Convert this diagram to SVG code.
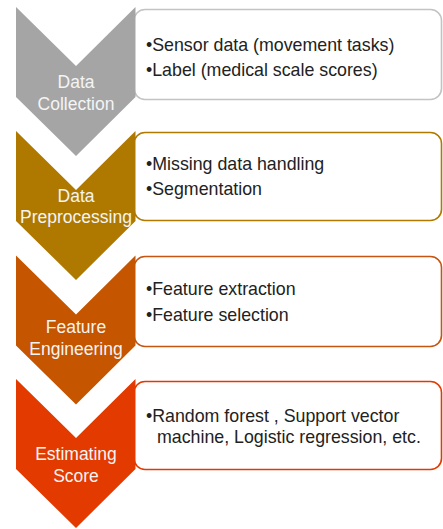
<svg xmlns="http://www.w3.org/2000/svg" width="443" height="529" viewBox="0 0 443 529">
  <defs>
    <!-- chevron step shape, drawn at origin and moved per step -->
    <polygon id="chev" points="16,0 76,59 135.5,0 135.5,90 76,149 16,90"/>
  </defs>
  <style>
    .box { fill: #ffffff; stroke-width: 1.6; }
    .step { font-family: "Liberation Sans", Arial, sans-serif; font-size: 17.5px; fill: #f4f4f4; text-anchor: middle; }
    .item { font-family: "Liberation Sans", Arial, sans-serif; font-size: 17.8px; fill: #222222; }
  </style>
  <rect width="443" height="529" fill="#ffffff"/>

  <g id="connectors"/>

  <!-- Step 1: data collection -->
  <g id="step-collection">
    <rect class="box" x="134" y="9.5" width="307.5" height="90" rx="11" stroke="#c3c3c3"/>
    <use href="#chev" x="0" y="7" fill="#a5a5a5"/>
    <text class="step" x="76" y="88">Data</text>
    <text class="step" x="76" y="110">Collection</text>
    <text class="item" x="146" y="51">•Sensor data (movement tasks)</text>
    <text class="item" x="146" y="76">•Label (medical scale scores)</text>
  </g>

  <!-- Step 2: preprocessing -->
  <g id="step-preprocessing">
    <rect class="box" x="134" y="132.5" width="307.5" height="88" rx="11" stroke="#b07a00"/>
    <use href="#chev" x="0" y="131" fill="#af7900"/>
    <text class="step" x="76" y="202">Data</text>
    <text class="step" x="76" y="223">Preprocessing</text>
    <text class="item" x="146" y="170">•Missing data handling</text>
    <text class="item" x="146" y="195">•Segmentation</text>
  </g>

  <!-- Step 3: feature engineering -->
  <g id="step-features">
    <rect class="box" x="134" y="256.5" width="307.5" height="90" rx="11" stroke="#c55510"/>
    <use href="#chev" x="0" y="255.5" fill="#c65500"/>
    <text class="step" x="76" y="333">Feature</text>
    <text class="step" x="76" y="355">Engineering</text>
    <text class="item" x="146" y="295">•Feature extraction</text>
    <text class="item" x="146" y="321">•Feature selection</text>
  </g>

  <!-- Step 4: score estimation -->
  <g id="step-estimation">
    <rect class="box" x="134" y="381.5" width="307.5" height="88" rx="11" stroke="#e23a00"/>
    <use href="#chev" x="0" y="379" fill="#e33a00"/>
    <text class="step" x="76" y="460">Estimating</text>
    <text class="step" x="76" y="482">Score</text>
    <text class="item" x="146" y="422">•Random forest , Support vector</text>
    <text class="item" x="157" y="443">machine, Logistic regression, etc.</text>
  </g>
</svg>
